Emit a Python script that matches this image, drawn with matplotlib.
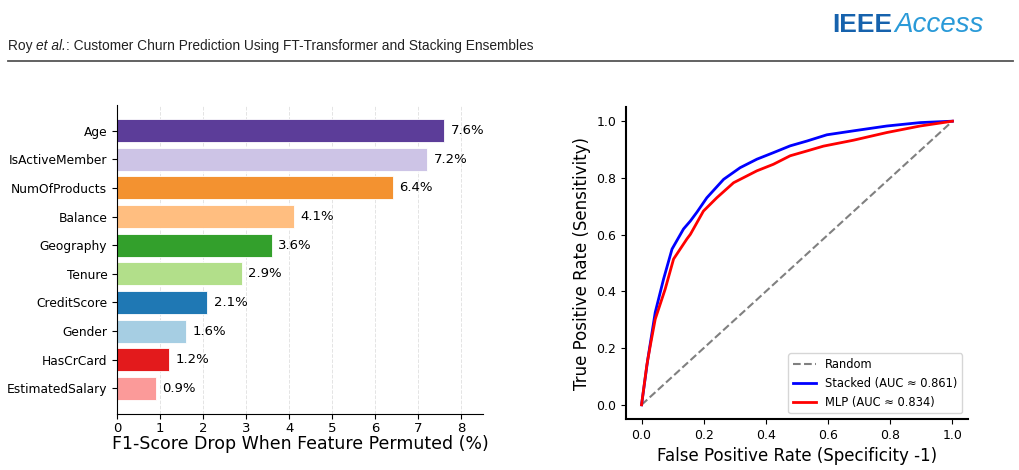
import matplotlib
matplotlib.use("Agg")
import matplotlib.pyplot as plt
from matplotlib.lines import Line2D

# feature importance (permutation, F1 drop in %)
features = ["Age", "IsActiveMember", "NumOfProducts", "Balance", "Geography",
            "Tenure", "CreditScore", "Gender", "HasCrCard", "EstimatedSalary"]
f1_drop = [7.6, 7.2, 6.4, 4.1, 3.6, 2.9, 2.1, 1.6, 1.2, 0.9]
bar_colors = ["#5c3d99", "#cdc4e6", "#f39230", "#ffbe80", "#33a02c",
              "#b2df8a", "#1f78b4", "#a6cee3", "#e31a1c", "#fb9a99"]

# ROC curves
fpr_stacked = [0, 0.02, 0.044, 0.071, 0.098, 0.135, 0.157, 0.178, 0.21, 0.264,
               0.317, 0.371, 0.424, 0.478, 0.532, 0.596, 0.682, 0.789, 0.896, 1.0]
tpr_stacked = [0, 0.16, 0.326, 0.444, 0.549, 0.62, 0.648, 0.679, 0.73, 0.795,
               0.836, 0.866, 0.889, 0.913, 0.93, 0.952, 0.966, 0.983, 0.995, 1.0]
fpr_mlp = [0, 0.017, 0.028, 0.044, 0.076, 0.103, 0.146, 0.157, 0.199, 0.242,
           0.296, 0.371, 0.424, 0.478, 0.532, 0.585, 0.682, 0.789, 0.896, 1.0]
tpr_mlp = [0, 0.14, 0.208, 0.302, 0.408, 0.514, 0.585, 0.601, 0.683, 0.73,
           0.783, 0.825, 0.848, 0.878, 0.895, 0.912, 0.933, 0.96, 0.983, 1.0]
auc_stacked = 0.861
auc_mlp = 0.834

fig = plt.figure(figsize=(10.19, 4.70), dpi=100)

# ---- page header ----
narrow = ["Liberation Sans Narrow", "Liberation Sans", "DejaVu Sans"]
fig.canvas.draw()
r = fig.canvas.get_renderer()
x0 = 8 / 1019
yh = 1 - 50 / 470
parts = [("Roy ", "normal"), ("et al.", "italic"),
         (": Customer Churn Prediction Using FT-Transformer and Stacking Ensembles", "normal")]
for s, st in parts:
    t = fig.text(x0, yh, s, fontsize=9.9, family=narrow, style=st, color="#222222")
    bb = t.get_window_extent(renderer=r)
    x0 += bb.width / 1019

fig.add_artist(Line2D([8 / 1019, 1013 / 1019], [1 - 61 / 470, 1 - 61 / 470],
                      color="#555555", lw=1.3))

lx = 832 / 1019
ly = 1 - 32 / 470
t = fig.text(lx, ly, "IEEE", fontsize=19, family=narrow,
             weight="bold", color="#1662ad")
bb = t.get_window_extent(renderer=r)
fig.text(lx + (bb.width + 2) / 1019, ly, "Access", fontsize=20,
         family=["Liberation Sans", "DejaVu Sans"], style="italic", color="#2a9ad8")

# ---- left: feature importance ----
ax1 = fig.add_axes([117 / 1019, 1 - 414 / 470, 366 / 1019, 309 / 470])
ypos = list(range(len(features)))[::-1]
ax1.barh(ypos, f1_drop, color=bar_colors, height=0.8, edgecolor="white", linewidth=0.6)
for y, v in zip(ypos, f1_drop):
    ax1.text(v + 0.15, y, f"{v:.1f}%", va="center", ha="left", fontsize=9.5)
ax1.set_yticks(ypos)
ax1.set_yticklabels(features, fontsize=8.8)
ax1.set_xlim(0, 8.5)
ax1.set_xticks(range(0, 9))
ax1.tick_params(axis="x", labelsize=9.5, pad=2)
ax1.grid(axis="x", linestyle="--", alpha=0.35, lw=0.7)
ax1.set_axisbelow(True)
ax1.set_xlabel("F1-Score Drop When Feature Permuted (%)", fontsize=12.5, labelpad=0)
ax1.spines["top"].set_visible(False)
ax1.spines["right"].set_visible(False)

# ---- right: ROC ----
ax2 = fig.add_axes([626 / 1019, 1 - 419 / 470, 342 / 1019, 312 / 470])
ax2.plot([0, 1], [0, 1], linestyle="--", color="gray", lw=1.5, label="Random")
ax2.plot(fpr_stacked, tpr_stacked, color="blue", lw=2, label=f"Stacked (AUC ≈ {auc_stacked:.3f})")
ax2.plot(fpr_mlp, tpr_mlp, color="red", lw=2, label=f"MLP (AUC ≈ {auc_mlp:.3f})")
ax2.set_xlim(-0.05, 1.05)
ax2.set_ylim(-0.05, 1.05)
ax2.set_xticks([0, 0.2, 0.4, 0.6, 0.8, 1.0])
ax2.set_yticks([0, 0.2, 0.4, 0.6, 0.8, 1.0])
ax2.tick_params(labelsize=9)
ax2.set_xlabel("False Positive Rate (Specificity -1)", fontsize=12)
ax2.set_ylabel("True Positive Rate (Sensitivity)", fontsize=12)
ax2.spines["top"].set_visible(False)
ax2.spines["right"].set_visible(False)
ax2.spines["left"].set_linewidth(1.5)
ax2.spines["bottom"].set_linewidth(1.5)
ax2.legend(loc="lower right", fontsize=8.3)

fig.savefig("out.png", dpi=100)
